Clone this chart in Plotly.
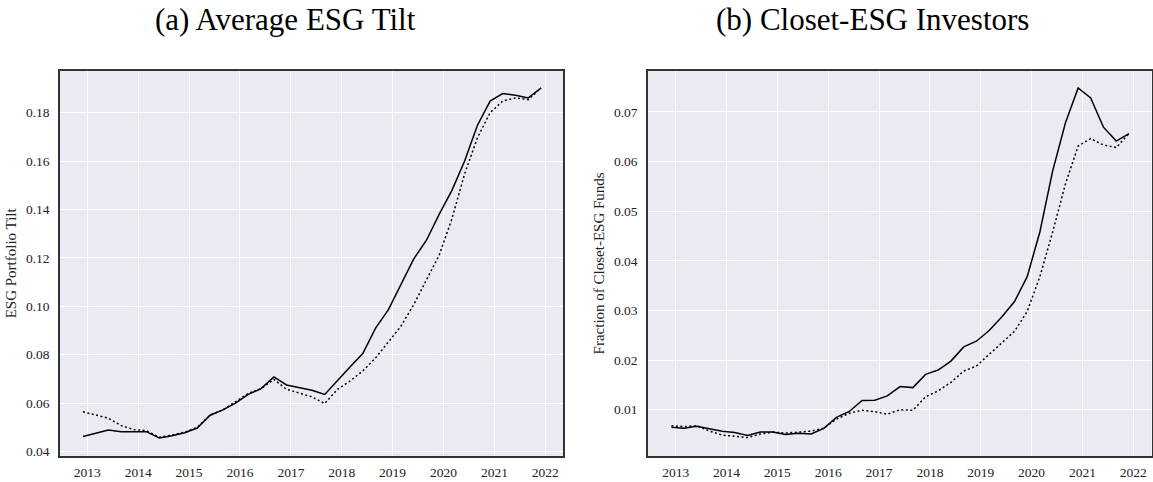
import plotly.graph_objects as go

dates = [
    "2012-12-01", "2013-03-01", "2013-06-01", "2013-09-01", "2013-12-01",
    "2014-03-01", "2014-06-01", "2014-09-01", "2014-12-01",
    "2015-03-01", "2015-06-01", "2015-09-01", "2015-12-01",
    "2016-03-01", "2016-06-01", "2016-09-01", "2016-12-01",
    "2017-03-01", "2017-06-01", "2017-09-01", "2017-12-01",
    "2018-03-01", "2018-06-01", "2018-09-01", "2018-12-01",
    "2019-03-01", "2019-06-01", "2019-09-01", "2019-12-01",
    "2020-03-01", "2020-06-01", "2020-09-01", "2020-12-01",
    "2021-03-01", "2021-06-01", "2021-09-01", "2021-12-01",
]

tilt_solid = [
    0.0462, 0.0475, 0.0489, 0.0482, 0.0482,
    0.0482, 0.0456, 0.0465, 0.0478,
    0.0497, 0.0550, 0.0572, 0.0600,
    0.0636, 0.0660, 0.0708, 0.0675,
    0.0663, 0.0653, 0.0636, 0.0695,
    0.0749, 0.0805, 0.0910, 0.0985,
    0.1088, 0.1195, 0.1273, 0.1380,
    0.1478, 0.1600, 0.1748, 0.1848,
    0.1879, 0.1872, 0.1861, 0.1902,
]

tilt_dotted = [
    0.0564, 0.0552, 0.0538, 0.0507, 0.0491,
    0.0486, 0.0459, 0.0468, 0.0480,
    0.0500, 0.0550, 0.0572, 0.0605,
    0.0640, 0.0660, 0.0698, 0.0657,
    0.0643, 0.0626, 0.0598, 0.0657,
    0.0691, 0.0733, 0.0787, 0.0850,
    0.0917, 0.1006, 0.1110, 0.1211,
    0.1360, 0.1547, 0.1697, 0.1800,
    0.1848, 0.1861, 0.1854, 0.1902,
]

closet_solid = [
    0.00646, 0.00626, 0.00666, 0.00612, 0.00566,
    0.00540, 0.00480, 0.00552, 0.00550,
    0.00500, 0.00526, 0.00512, 0.00626,
    0.00846, 0.00966, 0.01186, 0.01192,
    0.01280, 0.01466, 0.01446, 0.01712,
    0.01800, 0.01980, 0.02266, 0.02380,
    0.02590, 0.02866, 0.03180, 0.03680,
    0.04580, 0.05810, 0.06780, 0.07480,
    0.07280, 0.06690, 0.06410, 0.06560,
]

closet_dotted = [
    0.00680, 0.00660, 0.00680, 0.00570, 0.00490,
    0.00470, 0.00440, 0.00510, 0.00550,
    0.00530, 0.00550, 0.00570, 0.00630,
    0.00810, 0.00930, 0.00990, 0.00960,
    0.00910, 0.01000, 0.00990, 0.01260,
    0.01380, 0.01550, 0.01780, 0.01880,
    0.02110, 0.02350, 0.02580, 0.02980,
    0.03680, 0.04580, 0.05550, 0.06310,
    0.06460, 0.06330, 0.06280, 0.06560,
]

titles = ["(a) Average ESG Tilt", "(b) Closet-ESG Investors"]
ytitles = ["ESG Portfolio Tilt", "Fraction of Closet-ESG Funds"]

SERIF = "Liberation Serif"
fig = go.Figure()

fig.add_trace(go.Scatter(x=dates, y=tilt_solid, mode="lines", xaxis="x", yaxis="y",
                         line=dict(color="black", width=1.5), showlegend=False))
fig.add_trace(go.Scatter(x=dates, y=tilt_dotted, mode="lines", xaxis="x", yaxis="y",
                         line=dict(color="black", width=1.5, dash="2px,2.5px"), showlegend=False))
fig.add_trace(go.Scatter(x=dates, y=closet_solid, mode="lines", xaxis="x2", yaxis="y2",
                         line=dict(color="black", width=1.5), showlegend=False))
fig.add_trace(go.Scatter(x=dates, y=closet_dotted, mode="lines", xaxis="x2", yaxis="y2",
                         line=dict(color="black", width=1.5, dash="2px,2.5px"), showlegend=False))

W, H = 1153, 482
xd1 = [60 / W, 563 / W]
xd2 = [648 / W, 1151.5 / W]
yd = [1 - 459 / H, 1 - 71 / H]

common_x = dict(
    type="date", tickformat="%Y", dtick="M12", tick0="2013-01-01",
    showgrid=True, gridcolor="white", gridwidth=1.2,
    showline=True, linecolor="#333333", linewidth=1.5, mirror=True,
    ticks="outside", ticklen=3, tickcolor="rgba(0,0,0,0)",
    tickfont=dict(family=SERIF, size=13.5, color="#222222"),
    zeroline=False,
)
common_y = dict(
    showgrid=True, gridcolor="white", gridwidth=1.2,
    showline=True, linecolor="#333333", linewidth=1.5, mirror=True,
    ticks="outside", ticklen=6, tickcolor="rgba(0,0,0,0)",
    tickfont=dict(family=SERIF, size=13.5, color="#222222"),
    tickformat=".2f", zeroline=False,
)

fig.update_layout(
    width=W, height=H,
    margin=dict(l=0, r=0, t=0, b=0),
    paper_bgcolor="white",
    plot_bgcolor="#EAEAF2",
    xaxis=dict(domain=xd1, anchor="y", range=["2012-06-19", "2022-05-08"], **common_x),
    yaxis=dict(domain=yd, anchor="x", range=[0.0381, 0.1974], dtick=0.02, tick0=0.04,
               title=dict(text=ytitles[0], font=dict(family=SERIF, size=15, color="#222222"), standoff=6),
               **common_y),
    xaxis2=dict(domain=xd2, anchor="y2", range=["2012-06-16", "2022-05-12"], **common_x),
    yaxis2=dict(domain=yd, anchor="x2", range=[0.00066, 0.0783], dtick=0.01, tick0=0.0,
                title=dict(text=ytitles[1], font=dict(family=SERIF, size=15, color="#222222"), standoff=6),
                **common_y),
    annotations=[
        dict(text=titles[0], x=285 / W, y=1 - 20 / H, xref="paper", yref="paper",
             showarrow=False, xanchor="center", yanchor="middle",
             font=dict(family=SERIF, size=31, color="black")),
        dict(text=titles[1], x=872 / W, y=1 - 20 / H, xref="paper", yref="paper",
             showarrow=False, xanchor="center", yanchor="middle",
             font=dict(family=SERIF, size=31, color="black")),
    ],
)

fig.write_html("out.html", config={"displayModeBar": False},
               post_script="document.body.style.margin='0px';document.body.style.overflow='hidden';")
